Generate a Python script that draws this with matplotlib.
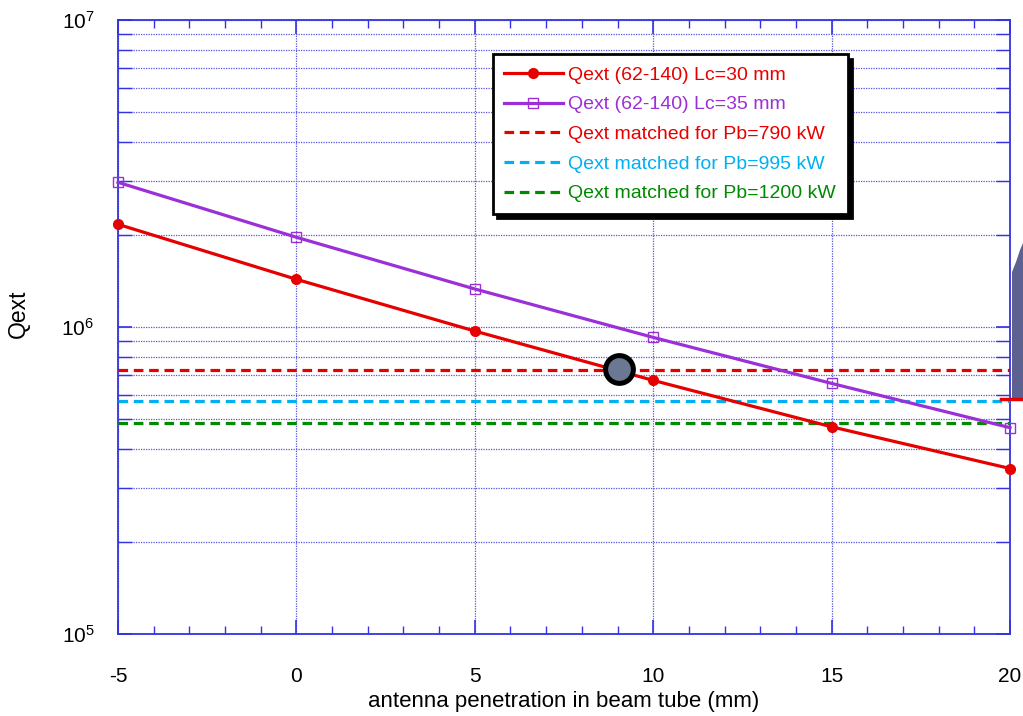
import matplotlib
matplotlib.use("Agg")
import matplotlib.pyplot as plt
from matplotlib.ticker import LogLocator, MultipleLocator, NullFormatter, LogFormatterSciNotation
from matplotlib.patches import Polygon
from matplotlib.lines import Line2D

plt.rcParams['font.family'] = ['Liberation Sans', 'DejaVu Sans']
plt.rcParams['mathtext.fontset'] = 'custom'
plt.rcParams['mathtext.rm'] = 'Liberation Sans'
plt.rcParams['mathtext.it'] = 'Liberation Sans:italic'
plt.rcParams['mathtext.default'] = 'regular'
plt.rcParams['axes.unicode_minus'] = False

# ---- data ----
penetration = [-5, 0, 5, 10, 15, 20]
qext_lc30 = [2.16e6, 1.43e6, 9.7e5, 6.7e5, 4.73e5, 3.46e5]
qext_lc35 = [2.96e6, 1.96e6, 1.33e6, 9.25e5, 6.55e5, 4.70e5]
matched_labels = ["Qext matched for Pb=790 kW", "Qext matched for Pb=995 kW", "Qext matched for Pb=1200 kW"]
matched_values = [7.27e5, 5.76e5, 4.88e5]
operating_x = [9.05]
operating_y = [7.3e5]
x_ticks = [-5, 0, 5, 10, 15, 20]

RED = '#e60000'
PURPLE = '#9b30d8'
CYAN = '#00b0f0'
GREEN = '#008a00'
AXBLUE = '#3333e0'
GRIDBLUE = '#5555e6'
matched_colors = [RED, CYAN, GREEN]

fig = plt.figure(figsize=(10.23, 7.16), dpi=100)
ax = fig.add_axes([118/1023, 1-634/716, 892/1023, 614/716])

ax.set_yscale('log')
ax.set_xlim(-5, 20)
ax.set_ylim(1e5, 1e7)

ax.plot(penetration, qext_lc30, color=RED, lw=2.3, marker='o', ms=7,
        mfc=RED, mec=RED, label='Qext (62-140) Lc=30 mm', clip_on=False, zorder=5)
ax.plot(penetration, qext_lc35, color=PURPLE, lw=2.3, marker='s', ms=7,
        mfc='none', mec=PURPLE, mew=1.0, label='Qext (62-140) Lc=35 mm', clip_on=False, zorder=5)
for lab, val, col in zip(matched_labels, matched_values, matched_colors):
    ax.axhline(val, color=col, lw=2.3, ls=(0, (3, 1.8)), label=lab, zorder=4)

ax.plot(operating_x, operating_y, marker='o', ms=20, mfc='#6b7893', mec='black',
        mew=3.6, ls='none', zorder=7)

# ticks & grid
ax.xaxis.set_major_locator(MultipleLocator(5))
ax.xaxis.set_minor_locator(MultipleLocator(1))
ax.set_xticks(x_ticks)
ax.yaxis.set_major_locator(LogLocator(base=10, numticks=10))
ax.yaxis.set_minor_locator(LogLocator(base=10, subs=range(2, 10), numticks=20))
ax.yaxis.set_major_formatter(LogFormatterSciNotation())
ax.yaxis.set_minor_formatter(NullFormatter())

ax.tick_params(axis='both', which='both', direction='in', colors=AXBLUE,
               labelcolor='black', top=True, right=True)
ax.tick_params(axis='x', which='major', length=10, width=1.2, labelsize=15, pad=24)
ax.tick_params(axis='x', which='minor', length=6, width=1.0)
ax.tick_params(axis='y', which='major', length=10, width=1.2, labelsize=15, pad=17)
ax.tick_params(axis='y', which='minor', length=10, width=1.0)

ax.grid(True, which='major', axis='x', color=GRIDBLUE, ls=(0, (1, 1)), lw=0.9)
ax.grid(True, which='both', axis='y', color=GRIDBLUE, ls=(0, (1, 1)), lw=0.9)
for s in ax.spines.values():
    s.set_color(AXBLUE)
    s.set_linewidth(1.3)

ax.set_xlabel('antenna penetration in beam tube (mm)', fontsize=16)
ax.xaxis.set_label_coords(0.5, -0.093)
ax.set_ylabel('Qext', fontsize=16.5)
ax.yaxis.set_label_coords(-0.099, 0.522)

leg = ax.legend(loc='upper left', bbox_to_anchor=(0.420, 0.944), borderaxespad=0,
                fontsize=14, handlelength=3.0, handletextpad=0.3, labelspacing=0.62,
                borderpad=0.6, frameon=True, fancybox=False, framealpha=1,
                edgecolor='black', shadow={'color': 'black', 'alpha': 1, 'ox': 3, 'oy': -3})
leg.get_frame().set_linewidth(2.0)
for txt, col in zip(leg.get_texts(), [RED, PURPLE] + matched_colors):
    txt.set_color(col)

# decorative overlay fragment at the right edge
W, H = 1023, 716
shape_px = [(1012, 398), (1012, 272), (1016, 262), (1020, 250), (1023, 243), (1023, 398)]
poly = Polygon([(x / W, 1 - y / H) for x, y in shape_px], closed=True,
               transform=fig.transFigure, facecolor='#5c6190', edgecolor='none')
fig.patches.append(poly)
fig.lines.append(Line2D([1001 / W, 1023 / W], [1 - 399 / H, 1 - 399 / H],
                        transform=fig.transFigure, color=RED, lw=2.5))

fig.savefig('out.png', dpi=100)
